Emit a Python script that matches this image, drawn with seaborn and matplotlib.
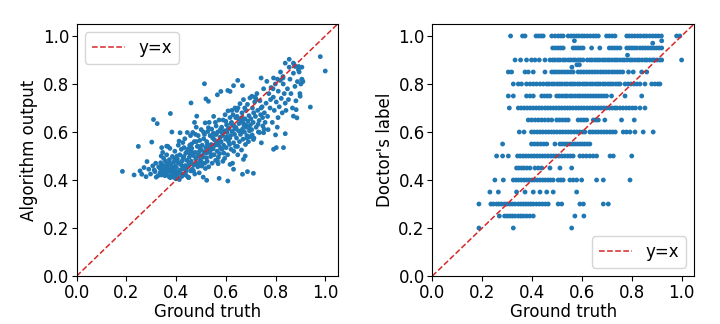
import matplotlib
matplotlib.use("Agg")
import matplotlib.pyplot as plt
import seaborn as sns
import pandas as pd

# ---------------- Left panel: ground truth vs algorithm output ----------------
gt_left = [
    # sparse low end
    0.184, 0.231, 0.248, 0.255, 0.262, 0.271, 0.279, 0.283, 0.302, 0.309, 0.324, 0.306, 0.315,
    0.336, 0.342, 0.362, 0.377, 0.383, 0.290, 0.297, 0.318, 0.327, 0.330, 0.312, 0.320,
    # 0.33-0.40
    0.335, 0.338, 0.341, 0.344, 0.347, 0.350, 0.352, 0.355, 0.357, 0.360, 0.362, 0.364, 0.366,
    0.369, 0.371, 0.373, 0.375, 0.377, 0.379, 0.381, 0.383, 0.385, 0.387, 0.389, 0.391, 0.393,
    0.395, 0.397, 0.399, 0.340, 0.349, 0.358, 0.367, 0.376, 0.386, 0.394, 0.346, 0.372, 0.388, 0.398,
    # 0.40-0.46
    0.401, 0.403, 0.405, 0.407, 0.409, 0.411, 0.413, 0.415, 0.417, 0.419, 0.421, 0.423, 0.425,
    0.427, 0.429, 0.431, 0.433, 0.435, 0.437, 0.439, 0.441, 0.443, 0.445, 0.447, 0.449, 0.451,
    0.453, 0.455, 0.457, 0.459, 0.404, 0.412, 0.420, 0.428, 0.436, 0.444, 0.452, 0.458, 0.416,
    0.432, 0.448, 0.406, 0.424, 0.440, 0.456,
    # 0.46-0.52
    0.461, 0.463, 0.465, 0.467, 0.469, 0.471, 0.473, 0.475, 0.477, 0.479, 0.481, 0.483, 0.485,
    0.487, 0.489, 0.491, 0.493, 0.495, 0.497, 0.499, 0.501, 0.503, 0.505, 0.507, 0.509, 0.511,
    0.513, 0.515, 0.517, 0.519, 0.462, 0.470, 0.478, 0.486, 0.494, 0.502, 0.510, 0.518, 0.466,
    0.482, 0.498, 0.514, 0.474, 0.490, 0.506, 0.460,
    # 0.52-0.58
    0.521, 0.523, 0.525, 0.527, 0.529, 0.531, 0.533, 0.535, 0.537, 0.539, 0.541, 0.543, 0.545,
    0.547, 0.549, 0.551, 0.553, 0.555, 0.557, 0.559, 0.561, 0.563, 0.565, 0.567, 0.569, 0.571,
    0.573, 0.575, 0.577, 0.579, 0.522, 0.530, 0.538, 0.546, 0.554, 0.562, 0.570, 0.578, 0.526,
    0.542, 0.558, 0.574, 0.534, 0.550, 0.566,
    # 0.58-0.64
    0.581, 0.583, 0.585, 0.587, 0.589, 0.591, 0.593, 0.595, 0.597, 0.599, 0.601, 0.603, 0.605,
    0.607, 0.609, 0.611, 0.613, 0.615, 0.617, 0.619, 0.621, 0.623, 0.625, 0.627, 0.629, 0.631,
    0.633, 0.635, 0.637, 0.639, 0.584, 0.592, 0.600, 0.608, 0.616, 0.624, 0.632, 0.640, 0.588,
    0.604, 0.620, 0.636,
    # 0.64-0.70
    0.641, 0.643, 0.645, 0.647, 0.649, 0.651, 0.653, 0.655, 0.657, 0.659, 0.661, 0.663, 0.665,
    0.667, 0.669, 0.671, 0.673, 0.675, 0.677, 0.679, 0.681, 0.683, 0.685, 0.687, 0.689, 0.691,
    0.693, 0.695, 0.697, 0.699, 0.644, 0.652, 0.660, 0.668, 0.676, 0.684, 0.692, 0.648, 0.664,
    0.680, 0.696,
    # 0.70-0.76
    0.701, 0.704, 0.707, 0.710, 0.713, 0.716, 0.719, 0.722, 0.725, 0.728, 0.731, 0.734, 0.737,
    0.740, 0.743, 0.746, 0.749, 0.752, 0.755, 0.758, 0.706, 0.718, 0.730, 0.742, 0.754, 0.712,
    0.736, 0.748,
    # 0.76-0.84
    0.762, 0.768, 0.773, 0.778, 0.782, 0.787, 0.791, 0.795, 0.799, 0.803, 0.807, 0.811, 0.815,
    0.819, 0.823, 0.827, 0.831, 0.835, 0.839, 0.770, 0.790, 0.810, 0.830, 0.780, 0.800, 0.820,
    # 0.84-0.92
    0.842, 0.848, 0.852, 0.858, 0.862, 0.868, 0.872, 0.878, 0.882, 0.888, 0.892, 0.898, 0.902,
    0.906, 0.910, 0.855, 0.875, 0.895,
    # outliers
    0.416, 0.460, 0.514, 0.483, 0.520, 0.530, 0.566, 0.580, 0.608, 0.617, 0.648, 0.631, 0.667,
    0.705, 0.721, 0.742, 0.765, 0.792, 0.808, 0.830, 0.839, 0.855, 0.872, 0.879, 0.893, 0.906,
    0.980, 1.000, 0.940, 0.886, 0.872, 0.839, 0.832, 0.803, 0.792, 0.752, 0.711, 0.678, 0.671,
    0.687, 0.711, 0.667, 0.608, 0.573, 0.523, 0.631, 0.617, 0.906, 0.899, 0.883,
]
algo_left = [
    0.436, 0.421, 0.540, 0.438, 0.424, 0.452, 0.414, 0.477, 0.558, 0.652, 0.635, 0.459, 0.435,
    0.431, 0.535, 0.541, 0.677, 0.600, 0.445, 0.425, 0.470, 0.418, 0.455, 0.442, 0.412,
    0.448, 0.472, 0.421, 0.463, 0.437, 0.490, 0.452, 0.418, 0.478, 0.441, 0.505, 0.429, 0.462,
    0.447, 0.415, 0.485, 0.532, 0.438, 0.468, 0.421, 0.455, 0.498, 0.442, 0.412, 0.475, 0.430,
    0.520, 0.458, 0.405, 0.500, 0.428, 0.460, 0.540, 0.410, 0.445, 0.488, 0.515, 0.470, 0.425, 0.438,
    0.452, 0.418, 0.487, 0.431, 0.545, 0.470, 0.402, 0.505, 0.442, 0.465, 0.528, 0.415, 0.480,
    0.556, 0.446, 0.498, 0.425, 0.572, 0.460, 0.512, 0.438, 0.482, 0.598, 0.455, 0.530, 0.410,
    0.495, 0.545, 0.468, 0.438, 0.500, 0.562, 0.425, 0.492, 0.448, 0.520, 0.470, 0.585, 0.440,
    0.535, 0.412, 0.476, 0.459, 0.420, 0.510,
    0.478, 0.532, 0.445, 0.598, 0.502, 0.462, 0.560, 0.425, 0.515, 0.488, 0.620, 0.470, 0.540,
    0.455, 0.585, 0.505, 0.430, 0.565, 0.482, 0.528, 0.610, 0.458, 0.545, 0.495, 0.412, 0.572,
    0.518, 0.470, 0.638, 0.535, 0.550, 0.438, 0.590, 0.498, 0.520, 0.475, 0.600, 0.448, 0.512,
    0.560, 0.468, 0.590, 0.640, 0.540, 0.502, 0.522,
    0.512, 0.560, 0.478, 0.602, 0.535, 0.455, 0.640, 0.520, 0.585, 0.498, 0.548, 0.612, 0.470,
    0.575, 0.530, 0.665, 0.505, 0.590, 0.545, 0.482, 0.625, 0.558, 0.520, 0.600, 0.468, 0.545,
    0.650, 0.510, 0.578, 0.532, 0.492, 0.618, 0.540, 0.505, 0.568, 0.590, 0.495, 0.610, 0.548,
    0.528, 0.640, 0.562, 0.515, 0.595, 0.480,
    0.560, 0.620, 0.528, 0.585, 0.650, 0.545, 0.605, 0.490, 0.672, 0.570, 0.535, 0.630, 0.598,
    0.505, 0.688, 0.560, 0.615, 0.548, 0.660, 0.585, 0.528, 0.640, 0.602, 0.470, 0.672, 0.555,
    0.625, 0.590, 0.700, 0.540, 0.598, 0.512, 0.645, 0.612, 0.575, 0.690, 0.520, 0.660, 0.478,
    0.580, 0.635, 0.612,
    0.618, 0.575, 0.665, 0.540, 0.700, 0.605, 0.635, 0.560, 0.718, 0.590, 0.648, 0.525, 0.680,
    0.612, 0.570, 0.735, 0.628, 0.600, 0.655, 0.548, 0.690, 0.620, 0.585, 0.715, 0.645, 0.560,
    0.668, 0.605, 0.742, 0.630, 0.690, 0.655, 0.600, 0.640, 0.700, 0.575, 0.620, 0.505, 0.660,
    0.630, 0.580,
    0.655, 0.610, 0.700, 0.640, 0.575, 0.725, 0.665, 0.620, 0.760, 0.690, 0.600, 0.648, 0.730,
    0.672, 0.555, 0.705, 0.625, 0.780, 0.680, 0.640, 0.588, 0.745, 0.632, 0.700, 0.612, 0.680,
    0.598, 0.660,
    0.720, 0.665, 0.760, 0.700, 0.785, 0.640, 0.745, 0.690, 0.800, 0.725, 0.620, 0.770, 0.705,
    0.815, 0.740, 0.680, 0.800, 0.760, 0.720, 0.610, 0.780, 0.660, 0.825, 0.735, 0.588, 0.850,
    0.690, 0.780, 0.735, 0.820, 0.760, 0.700, 0.845, 0.790, 0.730, 0.810, 0.860, 0.760, 0.800,
    0.820, 0.810, 0.870, 0.880, 0.850,
    0.597, 0.721, 0.801, 0.666, 0.738, 0.728, 0.755, 0.769, 0.773, 0.769, 0.815, 0.793, 0.793,
    0.749, 0.738, 0.825, 0.811, 0.825, 0.820, 0.831, 0.887, 0.903, 0.887, 0.873, 0.873, 0.870,
    0.914, 0.854, 0.704, 0.659, 0.666, 0.593, 0.535, 0.535, 0.528, 0.597, 0.569, 0.500, 0.486,
    0.435, 0.428, 0.424, 0.396, 0.407, 0.399, 0.445, 0.465, 0.818, 0.749, 0.693,
]

# ---------------- Right panel: ground truth grouped by doctor's label ----------------
doc_levels = [1.00, 0.98, 0.97, 0.95, 0.92, 0.90, 0.88, 0.87, 0.85, 0.80, 0.75, 0.70,
              0.65, 0.60, 0.55, 0.50, 0.45, 0.40, 0.35, 0.30, 0.25, 0.20]
gt_at_100 = [0.314, 0.362, 0.372, 0.416, 0.426, 0.436, 0.445, 0.479, 0.492, 0.505, 0.515, 0.525,
             0.545, 0.556, 0.566, 0.578, 0.588, 0.600, 0.610, 0.622, 0.634, 0.646, 0.656, 0.666,
             0.699, 0.710, 0.722, 0.733, 0.780, 0.790, 0.801, 0.812, 0.824, 0.835, 0.848, 0.859,
             0.872, 0.884, 0.896, 0.907, 0.919, 0.980, 0.993]
gt_at_098 = [0.570, 0.920]
gt_at_097 = [0.884]
gt_at_095 = [0.483, 0.494, 0.505, 0.515, 0.525, 0.565, 0.575, 0.585, 0.595, 0.605, 0.639, 0.672,
             0.710, 0.720, 0.731, 0.742, 0.753, 0.780, 0.790, 0.800, 0.810, 0.820, 0.833, 0.844,
             0.855, 0.866, 0.877, 0.888, 0.899, 0.910, 0.920]
gt_at_092 = [0.783]
gt_at_090 = [0.332, 0.354, 0.378, 0.398, 0.412, 0.429, 0.452, 0.472, 0.483, 0.492, 0.503, 0.512,
             0.525, 0.534, 0.546, 0.555, 0.566, 0.574, 0.586, 0.595, 0.605, 0.622, 0.633, 0.641,
             0.653, 0.662, 0.671, 0.683, 0.692, 0.703, 0.711, 0.722, 0.733, 0.741, 0.752, 0.763,
             0.771, 0.782, 0.793, 0.801, 0.812, 0.823, 0.831, 0.842, 0.853, 0.861, 0.872, 0.883,
             0.891, 0.902, 0.913, 0.920, 1.000]
gt_at_088 = [0.580, 0.590]
gt_at_087 = [0.560]
gt_at_085 = [0.305, 0.318, 0.372, 0.385, 0.405, 0.452, 0.479, 0.489, 0.499, 0.510, 0.521, 0.532,
             0.543, 0.554, 0.565, 0.585, 0.596, 0.607, 0.619, 0.630, 0.641, 0.652, 0.663, 0.675,
             0.686, 0.697, 0.708, 0.720, 0.731, 0.742, 0.753, 0.764, 0.787, 0.806, 0.840, 0.860]
gt_at_080 = [0.325, 0.345, 0.358, 0.378, 0.392, 0.405, 0.418, 0.432, 0.445, 0.459, 0.468, 0.480,
             0.489, 0.501, 0.511, 0.520, 0.532, 0.541, 0.553, 0.562, 0.571, 0.583, 0.592, 0.604,
             0.613, 0.622, 0.634, 0.643, 0.655, 0.664, 0.673, 0.685, 0.694, 0.706, 0.715, 0.724,
             0.736, 0.745, 0.753, 0.773, 0.785, 0.797, 0.809, 0.821, 0.833, 0.853, 0.880, 0.893,
             0.905, 0.913]
gt_at_075 = [0.305, 0.325, 0.378, 0.392, 0.405, 0.439, 0.450, 0.461, 0.472, 0.499, 0.509, 0.520,
             0.531, 0.540, 0.552, 0.561, 0.572, 0.583, 0.592, 0.603, 0.614, 0.624, 0.635, 0.646,
             0.656, 0.667, 0.678, 0.688, 0.699, 0.719, 0.773, 0.840]
gt_at_070 = [0.309, 0.345, 0.357, 0.369, 0.381, 0.393, 0.405, 0.417, 0.428, 0.439, 0.452, 0.463,
             0.474, 0.486, 0.497, 0.508, 0.519, 0.531, 0.542, 0.553, 0.564, 0.576, 0.587, 0.598,
             0.609, 0.621, 0.632, 0.643, 0.654, 0.666, 0.677, 0.688, 0.699, 0.711, 0.722, 0.733,
             0.740, 0.753, 0.765, 0.778, 0.790, 0.803, 0.815, 0.833, 0.853]
gt_at_065 = [0.385, 0.398, 0.412, 0.425, 0.438, 0.451, 0.465, 0.479, 0.499, 0.510, 0.522, 0.534,
             0.545, 0.585, 0.597, 0.608, 0.619, 0.646, 0.656, 0.666, 0.692, 0.759, 0.810]
gt_at_060 = [0.349, 0.368, 0.398, 0.409, 0.421, 0.432, 0.443, 0.455, 0.466, 0.478, 0.489, 0.500,
             0.512, 0.523, 0.535, 0.546, 0.557, 0.569, 0.580, 0.591, 0.603, 0.612, 0.632, 0.643,
             0.655, 0.666, 0.678, 0.689, 0.700, 0.712, 0.723, 0.734, 0.766, 0.779, 0.793, 0.813,
             0.846, 0.886]
gt_at_055 = [0.282, 0.398, 0.410, 0.422, 0.435, 0.447, 0.459, 0.492, 0.512, 0.522, 0.532, 0.542,
             0.552, 0.562, 0.572, 0.582, 0.592, 0.602, 0.612, 0.622, 0.632]
gt_at_050 = [0.258, 0.282, 0.305, 0.342, 0.353, 0.364, 0.375, 0.386, 0.398, 0.409, 0.420, 0.431,
             0.442, 0.453, 0.464, 0.476, 0.487, 0.498, 0.509, 0.520, 0.531, 0.543, 0.554, 0.565,
             0.592, 0.605, 0.618, 0.632, 0.645, 0.659, 0.713, 0.726, 0.800]
gt_at_045 = [0.338, 0.348, 0.358, 0.368, 0.380, 0.392, 0.412, 0.425, 0.439, 0.472, 0.512, 0.559]
gt_at_040 = [0.251, 0.285, 0.325, 0.336, 0.346, 0.357, 0.368, 0.378, 0.389, 0.400, 0.410, 0.421,
             0.432, 0.443, 0.453, 0.464, 0.474, 0.485, 0.505, 0.515, 0.525, 0.552, 0.565, 0.579,
             0.599, 0.659, 0.686, 0.793]
gt_at_035 = [0.231, 0.265, 0.338, 0.372, 0.405, 0.432, 0.459, 0.485, 0.579]
gt_at_030 = [0.187, 0.235, 0.245, 0.258, 0.268, 0.278, 0.290, 0.300, 0.311, 0.321, 0.332, 0.345,
             0.355, 0.365, 0.375, 0.385, 0.395, 0.405, 0.418, 0.430, 0.442, 0.454, 0.465, 0.505,
             0.519, 0.592, 0.606, 0.686, 0.706]
gt_at_025 = [0.269, 0.290, 0.301, 0.312, 0.322, 0.332, 0.345, 0.355, 0.365, 0.378, 0.391, 0.405,
             0.572, 0.608]
gt_at_020 = [0.187, 0.325, 0.559]

doc_groups = [gt_at_100, gt_at_098, gt_at_097, gt_at_095, gt_at_092, gt_at_090, gt_at_088,
              gt_at_087, gt_at_085, gt_at_080, gt_at_075, gt_at_070, gt_at_065, gt_at_060,
              gt_at_055, gt_at_050, gt_at_045, gt_at_040, gt_at_035, gt_at_030, gt_at_025,
              gt_at_020]

tick_vals = [0.0, 0.2, 0.4, 0.6, 0.8, 1.0]

# ---------------- Build frames ----------------
df_left = pd.DataFrame({"gt": gt_left, "out": algo_left})
rows = []
for lvl, xs in zip(doc_levels, doc_groups):
    for x in xs:
        rows.append((x, lvl))
df_right = pd.DataFrame(rows, columns=["gt", "doc"])

# ---------------- Plot ----------------
plt.rcParams["font.family"] = ["DejaVu Sans"]
plt.rcParams["font.size"] = 13

fig = plt.figure(figsize=(7.2, 3.24), dpi=100)
ax1 = fig.add_axes([0.1065, 0.148, 0.3625, 0.778])
ax2 = fig.add_axes([0.6004, 0.148, 0.3636, 0.778])

blue = "#1f77b4"
red = "#d62728"

sns.scatterplot(data=df_left, x="gt", y="out", ax=ax1, s=12, color=blue,
                linewidth=0, edgecolor="none")
ax1.axline((0, 0), slope=1, color=red, linestyle="--", linewidth=1.1, label="y=x")
ax1.set_xlabel("Ground truth", fontsize=12, labelpad=1)
ax1.set_ylabel("Algorithm output", fontsize=12, labelpad=3)
ax1.legend(loc="upper left", fontsize=12)

sns.scatterplot(data=df_right, x="gt", y="doc", ax=ax2, s=12, color=blue,
                linewidth=0, edgecolor="none")
ax2.axline((0, 0), slope=1, color=red, linestyle="--", linewidth=1.1, label="y=x")
ax2.set_xlabel("Ground truth", fontsize=12, labelpad=1)
ax2.set_ylabel("Doctor's label", fontsize=12, labelpad=3)
ax2.legend(loc="lower right", fontsize=12)

for ax in (ax1, ax2):
    ax.set_xlim(0, 1.05)
    ax.set_ylim(0, 1.05)
    ax.set_xticks(tick_vals)
    ax.set_yticks(tick_vals)
    ax.tick_params(labelsize=12, pad=2)

fig.savefig("out.png", dpi=100)
